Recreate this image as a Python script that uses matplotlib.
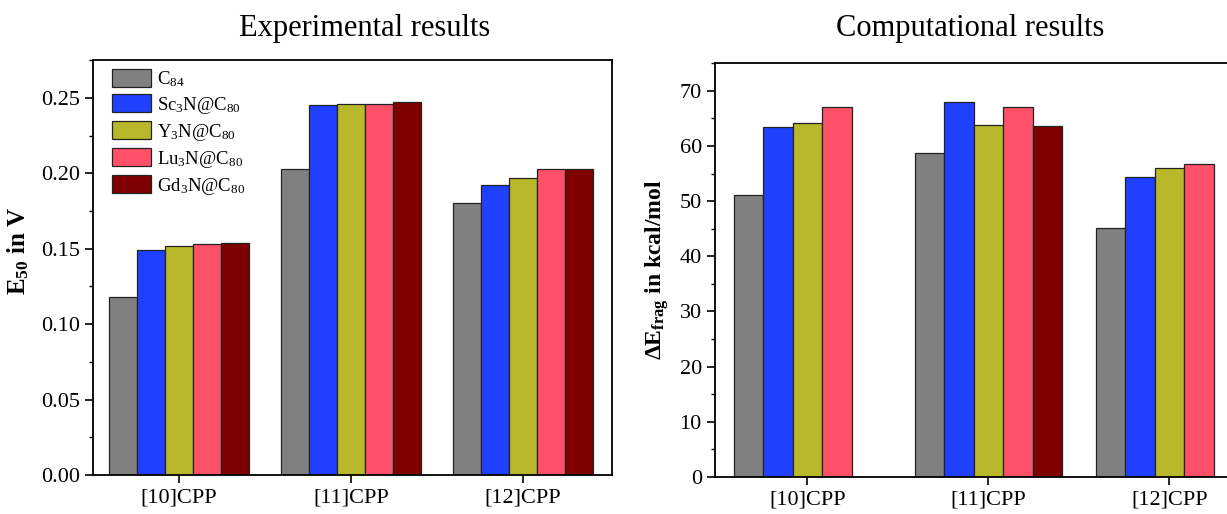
import numpy as np
import matplotlib
matplotlib.use("Agg")
import matplotlib.pyplot as plt
from matplotlib.ticker import MultipleLocator

plt.rcParams['font.family'] = ['Liberation Serif', 'DejaVu Serif']
plt.rcParams['mathtext.default'] = 'regular'

categories = ['[10]CPP', '[11]CPP', '[12]CPP']
series = ['C$_{84}$', 'Sc$_3$N@C$_{80}$', 'Y$_3$N@C$_{80}$', 'Lu$_3$N@C$_{80}$', 'Gd$_3$N@C$_{80}$']
colors = ['#808080', '#2040ff', '#b8b82a', '#ff5069', '#7f0000']

# experimental E50 (V)
exp_c84 = [0.118, 0.203, 0.180]
exp_sc = [0.149, 0.245, 0.192]
exp_y = [0.152, 0.246, 0.197]
exp_lu = [0.153, 0.246, 0.203]
exp_gd = [0.154, 0.247, 0.203]

# computational dE_frag (kcal/mol)
comp_c84 = [51.2, 58.7, 45.2]
comp_sc = [63.5, 68.0, 54.3]
comp_y = [64.2, 63.8, 56.0]
comp_lu = [67.1, 67.0, 56.8]
comp_gd = [np.nan, 63.6, np.nan]

exp_data = [exp_c84, exp_sc, exp_y, exp_lu, exp_gd]
comp_data = [comp_c84, comp_sc, comp_y, comp_lu, comp_gd]

fig = plt.figure(figsize=(12.27, 5.14), dpi=100)
ax1 = fig.add_axes([0.0758, 0.0759, 0.423, 0.807])
ax2 = fig.add_axes([0.5827, 0.072, 0.444, 0.805])

x = np.arange(len(categories))
w = 0.163

for ax, data in [(ax1, exp_data), (ax2, comp_data)]:
    for i, vals in enumerate(data):
        ax.bar(x + (i - 2) * w, vals, w, color=colors[i], edgecolor='#222222',
               linewidth=0.9, label=series[i])
    ax.set_xticks(x)
    ax.set_xticklabels(categories, fontsize=16)
    ax.set_xlim(-0.5, 2.52)
    ax.tick_params(axis='both', direction='out', length=6, width=1.2, labelsize=16)
    ax.tick_params(axis='y', which='minor', direction='out', length=3, width=1)
    for s in ax.spines.values():
        s.set_linewidth(1.3)

ax1.set_ylim(0, 0.275)
ax1.yaxis.set_major_locator(MultipleLocator(0.05))
ax1.yaxis.set_minor_locator(MultipleLocator(0.025))
ax1.yaxis.set_major_formatter(matplotlib.ticker.FormatStrFormatter('%.2f'))
ax1.set_ylabel('E$_{50}$ in V', fontsize=18, fontweight='bold')
ax1.yaxis.set_label_coords(-0.12, 0.54)
ax1.legend(loc='upper left', frameon=False, fontsize=13.5, handlelength=2.1,
           handleheight=1.1, labelspacing=0.3, handletextpad=0.3,
           borderaxespad=0.05, bbox_to_anchor=(0.02, 1.0))

ax2.set_xlim(-0.51, 2.5)
ax2.set_ylim(0, 75)
ax2.yaxis.set_major_locator(MultipleLocator(10))
ax2.yaxis.set_minor_locator(MultipleLocator(5))
ax2.set_ylabel('ΔE$_{frag}$ in kcal/mol', fontsize=17, fontweight='bold', labelpad=6)

fig.text(0.297, 0.945, 'Experimental results', fontsize=22, ha='center', va='center')
fig.text(0.791, 0.945, 'Computational results', fontsize=22, ha='center', va='center')

fig.savefig('out.png', dpi=100)
